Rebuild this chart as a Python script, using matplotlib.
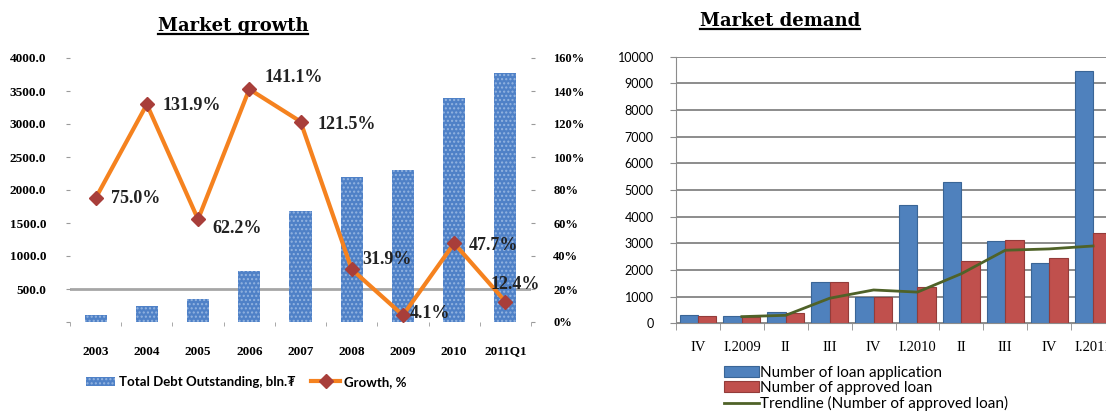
import numpy as np
import matplotlib
matplotlib.use("Agg")
import matplotlib.pyplot as plt
from matplotlib.lines import Line2D

# ---- data: left chart (Market growth)
years = ["2003", "2004", "2005", "2006", "2007", "2008", "2009", "2010", "2011Q1"]
debt = [106, 242, 348, 770, 1680, 2190, 2300, 3390, 3770]
growth = [75.0, 131.9, 62.2, 141.1, 121.5, 31.9, 4.1, 47.7, 12.4]
growth_labels = ["75.0%", "131.9%", "62.2%", "141.1%", "121.5%", "31.9%", "4.1%", "47.7%", "12.4%"]

# ---- data: right chart (Market demand)
quarters = ["IV", "I.2009", "II", "III", "IV", "I.2010", "II", "III", "IV", "I.2011"]
applications = [320, 275, 410, 1550, 1000, 4450, 5300, 3070, 2270, 9450]
approved = [270, 225, 370, 1540, 990, 1360, 2350, 3120, 2450, 3370]
trend = [np.nan, 250, 300, 940, 1250, 1170, 1860, 2740, 2790, 2900]

W, H = 1106, 413
fig = plt.figure(figsize=(W / 100, H / 100), dpi=100)

def fx(px):
    return px / W

def fy(py):
    return 1 - py / H

gray = "#9a9a9a"

# ================= left chart =================
ax1 = fig.add_axes([fx(70), fy(322), fx(531 - 70), (322 - 58) / H])
x = np.arange(len(years))
bars = ax1.bar(x, debt, width=0.43, color="#4F81C7", edgecolor="#93B4E0",
               hatch="....", linewidth=0, label="Total Debt Outstanding, bln.₮")
ax1.set_xlim(-0.5, len(years) - 0.5)
ax1.set_ylim(0, 4000)
ax1.set_yticks(np.arange(0, 4001, 500))
ax1.set_yticklabels([""] + ["%.1f" % v for v in np.arange(500, 4001, 500)])
ax1.axhline(500, color="#a6a6a6", lw=2, zorder=0)
for s in ax1.spines.values():
    s.set_visible(False)
ax1.set_xticks(x)
ax1.set_xticklabels(years)
ax1.set_xticks(np.arange(-0.5, len(years)), minor=True)
ax1.tick_params(axis="x", which="major", length=0, pad=17)
ax1.tick_params(axis="x", which="minor", length=3, color=gray)
ax1.tick_params(axis="y", length=3, color=gray, pad=14)
for lab in ax1.get_xticklabels() + ax1.get_yticklabels():
    lab.set_fontfamily("Liberation Serif")
    lab.set_fontweight("bold")
    lab.set_fontsize(9.5)

ax1r = ax1.twinx()
ax1r.set_ylim(0, 160)
ax1r.set_yticks(np.arange(0, 161, 20))
ax1r.set_yticklabels(["%d%%" % v for v in np.arange(0, 161, 20)])
for s in ax1r.spines.values():
    s.set_visible(False)
ax1r.tick_params(axis="y", length=3, color=gray, pad=13)
for lab in ax1r.get_yticklabels():
    lab.set_fontfamily("Liberation Serif")
    lab.set_fontweight("bold")
    lab.set_fontsize(9)
line, = ax1r.plot(x, growth, color="#F5821F", lw=3, marker="D", markersize=7,
                  markerfacecolor="#A83E3A", markeredgecolor="#A83E3A",
                  label="Growth, %")

offsets = [(15, 0), (16, -1), (14, -9), (15, 12), (17, -3),
           (11, 10), (7, 2), (15, -2), (-15, 17)]
for xi, g, t, (dx, dy) in zip(x, growth, growth_labels, offsets):
    ax1r.annotate(t, (xi, g), xytext=(dx, dy), textcoords="offset pixels",
                  ha="left", va="center", fontsize=13, fontweight="bold",
                  fontfamily="Liberation Serif", color="#222222")

fig.legend([bars, line], ["Total Debt Outstanding, bln.₮", "Growth, %"],
           loc="center left", bbox_to_anchor=(fx(74), fy(382)), ncol=2,
           frameon=False, handlelength=2.2, handletextpad=0.3,
           columnspacing=1.2, prop={"family": ["Lato", "DejaVu Sans"],
                                    "weight": "bold", "size": 9.5})

# ================= right chart =================
ax2 = fig.add_axes([fx(676), fy(323.3), fx(1115 - 676), (323.3 - 56.7) / H])
x2 = np.arange(len(quarters))
bw = 0.42
ax2.bar(x2 - bw / 2, applications, width=bw, color="#4F81BD", edgecolor="#3A6596",
        linewidth=0.8, label="Number of loan application", zorder=2)
ax2.bar(x2 + bw / 2, approved, width=bw, color="#C0504D", edgecolor="#933C3A",
        linewidth=0.8, label="Number of approved loan", zorder=2)
ax2.plot(x2, trend, color="#4F6228", lw=2, zorder=3,
         label="Trendline (Number of approved loan)")
ax2.set_xlim(-0.5, len(quarters) - 0.5)
ax2.set_ylim(0, 10000)
ax2.set_yticks(np.arange(0, 10001, 1000))
ax2.yaxis.grid(True, color="#8c8c8c", lw=1.4, zorder=0)
ax2.set_axisbelow(True)
for k in ["top", "right"]:
    ax2.spines[k].set_visible(False)
ax2.spines["left"].set_color("#8c8c8c")
ax2.spines["bottom"].set_color("#8c8c8c")
ax2.set_xticks(x2)
ax2.set_xticklabels(quarters, fontfamily="Liberation Serif", fontsize=10.5)
ax2.set_xticks(np.arange(-0.5, len(quarters)), minor=True)
ax2.tick_params(axis="x", which="major", length=0, pad=13)
ax2.tick_params(axis="x", which="minor", length=5, color="#8c8c8c")
ax2.tick_params(axis="y", length=4, color="#8c8c8c", pad=12)
for lab in ax2.get_yticklabels():
    lab.set_fontfamily("Lato")
    lab.set_fontsize(9)

h, l = ax2.get_legend_handles_labels()
order = [1, 2, 0]
fig.legend([h[i] for i in order], [l[i] for i in order],
           loc="upper left", bbox_to_anchor=(fx(716), fy(358)), frameon=False,
           handlelength=2.3, handletextpad=0.1, labelspacing=0.08,
           borderpad=0, prop={"family": "Lato", "size": 11})

# ================= titles with underline =================
fig.canvas.draw()
renderer = fig.canvas.get_renderer()
for txt, cx, cy in [("Market growth", 233, 26), ("Market demand", 780, 21)]:
    t = fig.text(fx(cx), fy(cy), txt, ha="center", va="center",
                 fontfamily="DejaVu Serif", fontweight="bold", fontsize=13)
    bb = t.get_window_extent(renderer)
    yline = bb.y0 + 1
    fig.add_artist(Line2D([bb.x0 / W, bb.x1 / W], [yline / H, yline / H],
                          color="black", lw=1.6))

fig.savefig("out.png", dpi=100)
